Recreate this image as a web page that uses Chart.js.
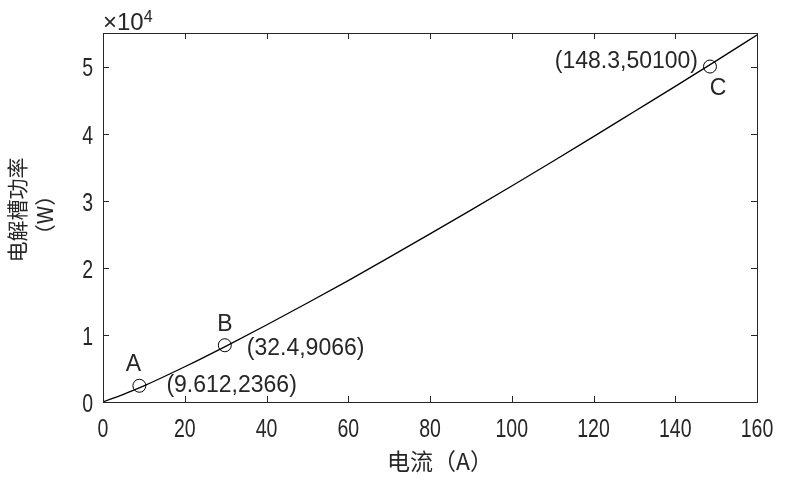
<!DOCTYPE html>
<html>
<head>
<meta charset="utf-8">
<script src="https://cdn.jsdelivr.net/npm/chart.js@4"></script>
<style>
  html, body { margin: 0; padding: 0; background: #fff; }
  #wrap { width: 792px; height: 482px; }
</style>
</head>
<body>
<div id="wrap"><canvas id="c" width="792" height="482"></canvas></div>
<script>
// curve: current (A) vs electrolyser power (W)
const currentX = [0, 5, 10, 20, 30, 40, 50, 60, 70, 80, 90, 100, 110, 120, 130, 140, 150, 160];
const powerY = [0, 1150, 2400, 5250, 8300, 11470, 14750, 18100, 21550, 25050, 28600, 32200, 35850, 39550, 43300, 47050, 50850, 54700];

// marked points (where the circles are drawn) and their annotations
const markX = [8.9, 29.8, 148.5];
const markY = [2420, 8460, 50000];
const markNames = ["A", "B", "C"];
const markTexts = ["(9.612,2366)", "(32.4,9066)", "(148.3,50100)"];

const xTicks = [0, 20, 40, 60, 80, 100, 120, 140, 160];
const yTicks = [0, 10000, 20000, 30000, 40000, 50000];

const TXT = "#262626";
const sansFont = "'Liberation Sans', Arial, sans-serif";
const cjkFont = "'Noto Sans CJK SC', sans-serif";

// narrow tick text (tall, condensed digits like the original)
function narrowText(ctx, text, x, y, align) {
    const sx = 0.78;
    ctx.save();
    ctx.translate(x, y);
    ctx.scale(sx, 1);
    ctx.textAlign = align;
    ctx.fillText(text, 0, 0);
    ctx.restore();
}

// === рамка, внутрішні тики, підписи ===
const decor = {
    id: "decor",
    afterDraw(chart) {
        const ctx = chart.ctx;
        const a = chart.chartArea;
        const xs = chart.scales.x, ys = chart.scales.y;
        ctx.save();
        ctx.strokeStyle = TXT;
        ctx.lineWidth = 1;
        ctx.strokeRect(a.left + 0.5, a.top + 0.5, a.right - a.left, a.bottom - a.top);
        ctx.beginPath();
        xTicks.forEach(v => {
            const px = Math.round(xs.getPixelForValue(v)) + 0.5;
            ctx.moveTo(px, a.bottom); ctx.lineTo(px, a.bottom - 6);
            ctx.moveTo(px, a.top); ctx.lineTo(px, a.top + 6);
        });
        yTicks.forEach(v => {
            const py = Math.round(ys.getPixelForValue(v)) + 0.5;
            ctx.moveTo(a.left, py); ctx.lineTo(a.left + 6, py);
            ctx.moveTo(a.right, py); ctx.lineTo(a.right - 6, py);
        });
        ctx.stroke();

        // tick labels
        ctx.fillStyle = TXT;
        ctx.font = "25px " + sansFont;
        ctx.textBaseline = "middle";
        xTicks.forEach(v => narrowText(ctx, String(v), xs.getPixelForValue(v), a.bottom + 28, "center"));
        yTicks.forEach(v => narrowText(ctx, String(v / 10000), a.left - 10, ys.getPixelForValue(v) + 3, "right"));

        // multiplier
        ctx.textBaseline = "alphabetic";
        ctx.textAlign = "left";
        ctx.font = "24px " + sansFont;
        const mul = "\u00d710";
        ctx.fillText(mul, a.left, 30);
        const w = ctx.measureText(mul).width;
        ctx.font = "16px " + sansFont;
        ctx.fillText("4", a.left + w, 22);

        // annotations
        ctx.font = "23px " + sansFont;
        ctx.textBaseline = "middle";
        const pts = markX.map((x, i) => [xs.getPixelForValue(x), ys.getPixelForValue(markY[i])]);
        // A
        ctx.textAlign = "center";
        ctx.fillText(markNames[0], pts[0][0] - 6, pts[0][1] - 21);
        ctx.textAlign = "left";
        ctx.fillText(markTexts[0], pts[0][0] + 27, pts[0][1]);
        // B
        ctx.textAlign = "center";
        ctx.fillText(markNames[1], pts[1][0], pts[1][1] - 21);
        ctx.textAlign = "left";
        ctx.fillText(markTexts[1], pts[1][0] + 22, pts[1][1] + 3);
        // C
        ctx.textAlign = "center";
        ctx.fillText(markNames[2], pts[2][0] + 8, pts[2][1] + 22);
        ctx.textAlign = "right";
        ctx.fillText(markTexts[2], pts[2][0] - 12, pts[2][1] - 5);

        // axis titles
        ctx.font = "23px " + cjkFont;
        ctx.textAlign = "center";
        ctx.fillText("电流（A）", 440, 461);
        ctx.font = "21px " + cjkFont;
        ctx.save();
        ctx.translate(17, 210);
        ctx.rotate(-Math.PI / 2);
        ctx.fillText("电解槽功率", 0, 0);
        ctx.restore();
        ctx.save();
        ctx.translate(45, 215);
        ctx.rotate(-Math.PI / 2);
        ctx.fillText("（W）", 0, 0);
        ctx.restore();
        ctx.restore();
    }
};

new Chart(document.getElementById("c"), {
    type: "scatter",
    data: {
        datasets: [
            {
                data: currentX.map((x, i) => ({ x: x, y: powerY[i] })),
                showLine: true,
                borderColor: "#000",
                borderWidth: 1.3,
                pointRadius: 0,
                tension: 0.4,
                cubicInterpolationMode: "monotone"
            },
            {
                data: markX.map((x, i) => ({ x: x, y: markY[i] })),
                showLine: false,
                pointStyle: "circle",
                pointRadius: 6.5,
                pointBorderColor: "#000",
                pointBorderWidth: 1,
                pointBackgroundColor: "rgba(0,0,0,0)"
            }
        ]
    },
    options: {
        responsive: false,
        animation: false,
        layout: { padding: { left: 0, right: 35, top: 33, bottom: 0 } },
        plugins: { legend: { display: false }, tooltip: { enabled: false } },
        scales: {
            x: {
                type: "linear",
                min: 0, max: 160,
                grid: { display: false },
                border: { display: false },
                afterFit(s) { s.height = 80; },
                afterBuildTicks(s) { s.ticks = xTicks.map(v => ({ value: v })); },
                ticks: { display: false }
            },
            y: {
                type: "linear",
                min: 0, max: 55000,
                grid: { display: false },
                border: { display: false },
                afterFit(s) { s.width = 103; },
                afterBuildTicks(s) { s.ticks = yTicks.map(v => ({ value: v })); },
                ticks: { display: false }
            }
        }
    },
    plugins: [decor]
});
</script>
</body>
</html>
